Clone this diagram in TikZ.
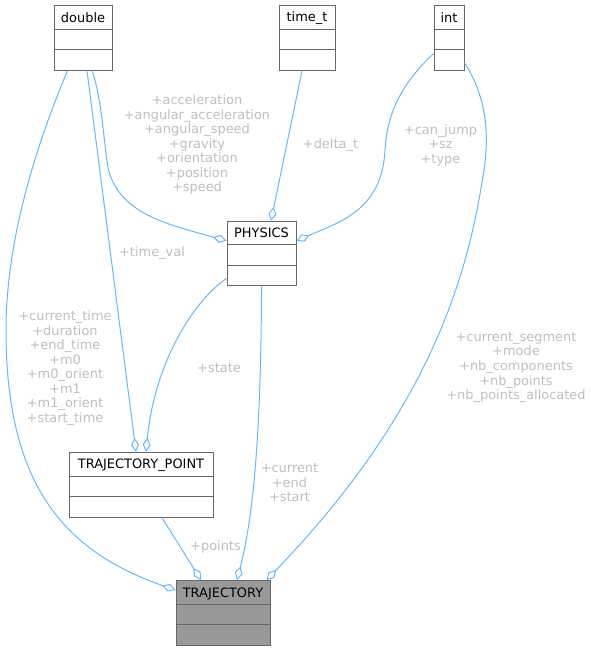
\documentclass[tikz,border=0pt]{standalone}
\usepackage{fontspec}
\setmainfont{DejaVu Sans}
\usetikzlibrary{arrows.meta, shapes.multipart, positioning, calc}
\definecolor{linkblue}{HTML}{63B8FF}
\definecolor{frame}   {HTML}{666666}
\definecolor{lblgray} {HTML}{BEBEBE}
\definecolor{trajfill}{HTML}{999999}
\newcommand{\clsstrut}{\rule[-2pt]{0pt}{11pt}}
\tikzset{
  cls/.style  = {rectangle split, rectangle split parts=3, draw=frame,
                 line width=0.75pt, fill=white, inner xsep=4pt, inner ysep=3pt,
                 rectangle split empty part height=8.6pt,
                 font=\fontsize{9.7}{12}\selectfont,
                 execute at begin node=\clsstrut},
  agg/.style  = {draw=linkblue, line width=0.75pt,
                 -{Diamond[fill=white, length=10.5pt, width=6pt]}},
  lbl/.style  = {font=\fontsize{9.7}{10.9}\selectfont, text=lblgray,
                 align=center, inner sep=0pt},
}

\begin{document}
\begin{tikzpicture}[x=0.75pt, y=-0.75pt]
  \useasboundingbox (0,0) rectangle (591,651);

  % classes
  \node[cls, minimum width=43.5pt, anchor=north] (dbl) at (83,5) {double};
  \node[cls, minimum width=42pt, right=124.5pt of dbl] (timet) {time\_t};
  \node[cls, minimum width=22.5pt, right=73.5pt of timet] (int) {int};
  \node[cls, minimum width=51.75pt, below=112.5pt of timet, xshift=-34.1pt] (phys)
    {PHYSICS};
  \node[cls, minimum width=108pt, below=124pt of phys, xshift=-90.4pt] (tpoint)
    {TRAJECTORY\_POINT};
  \node[cls, minimum width=70.5pt, fill=trajfill, below=46.75pt of tpoint,
        xshift=61.5pt] (traj) {TRAJECTORY};

  % members
  \draw[agg] ($(dbl.south west)+(14,0)$) .. controls (30,160) and (6,250) .. (6,330)
    .. controls (6,480) and (60,550) .. ($(traj.north west)+(0,10)$);
  \draw[agg] ($(dbl.south)+(4,0)$) -- ($(tpoint.north)+(-5,0)$);
  \draw[agg] ($(dbl.south)+(9,0)$) .. controls (104,105) and (104,158) .. (110,175)
    .. controls (124,215) and (170,225) .. ($(phys.north west)+(0,20)$);
  \draw[agg] ($(timet.south)+(-5,0)$) -- ($(phys.north)+(9.5,0)$);
  \draw[agg] ($(int.south west)+(0,-17)$) .. controls (400,85) and (387,115) .. (385,150)
    .. controls (382,210) and (340,222) .. ($(phys.north east)+(0,20)$);
  \draw[agg] ($(int.south east)+(0,-8)$) .. controls (485,95) and (490,130) .. (484,170)
    .. controls (470,260) and (440,400) .. ($(traj.north east)+(-4,0)$);
  \draw[agg] ($(phys.south west)+(0,-8)$) .. controls (195,300) and (155,360)
    .. ($(tpoint.north)+(5,0)$);
  \draw[agg] (phys.south) .. controls (261,420) and (255,510) .. ($(traj.north)+(14,0)$);
  \draw[agg] ($(tpoint.south)+(21,0)$) -- ($(traj.north)+(-22,0)$);

  % member names
  \node[lbl] (lbltraj) at (65,368)
    {+current\_time\\+duration\\+end\_time\\+m0\\+m0\_orient\\+m1\\+m1\_orient\\+start\_time};
  \node[lbl] (lbltval) at (152,253) {+time\_val};
  \node[lbl] (lblphys) at (197,144.5)
    {+acceleration\\+angular\_acceleration\\+angular\_speed\\+gravity\\+orientation\\+position\\+speed};
  \node[lbl] (lbldelta) at (330.5,145) {+delta\_t};
  \node[lbl] (lblint) at (440.5,145) {+can\_jump\\+sz\\+type};
  \node[lbl] (lblseg) at (516,367.5)
    {+current\_segment\\+mode\\+nb\_components\\+nb\_points\\+nb\_points\_allocated};
  \node[lbl] (lblstate) at (219,368) {+state};
  \node[lbl] (lblcur) at (289.5,483) {+current\\+end\\+start};
  \node[lbl] (lblpts) at (215.5,547) {+points};

\end{tikzpicture}
\end{document}
